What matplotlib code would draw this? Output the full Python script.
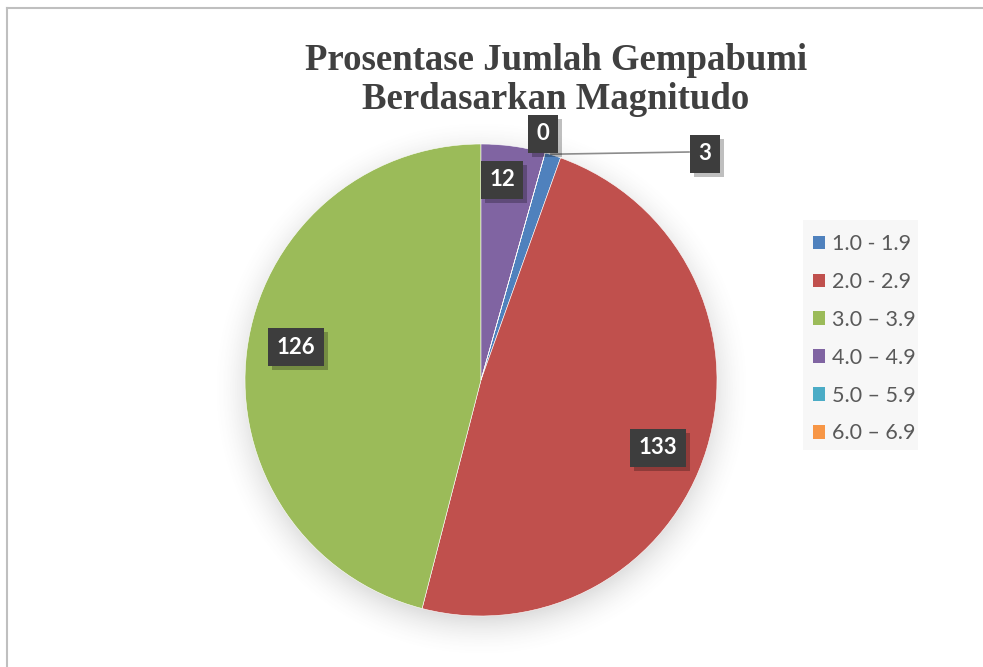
import numpy as np
import matplotlib
matplotlib.use("Agg")
import matplotlib.pyplot as plt
from matplotlib.patches import Patch, Rectangle
import matplotlib.patheffects as pe

categories = ["1.0 - 1.9", "2.0 - 2.9", "3.0 \u2013 3.9", "4.0 \u2013 4.9", "5.0 \u2013 5.9", "6.0 \u2013 6.9"]
values = [3, 133, 126, 12, 0, 0]
label_shown = [True, True, True, True, True, False]
colors = ["#4F81BD", "#C0504D", "#9BBB59", "#8064A2", "#4BACC6", "#F79646"]
title = "Prosentase Jumlah Gempabumi\nBerdasarkan Magnitudo"

W, H = 983, 667
fig = plt.figure(figsize=(W / 100, H / 100), dpi=100)
fig.patch.set_facecolor("white")
ax = fig.add_axes([0, 0, 1, 1])

cx, cy, R = 481, H - 380, 236

# soft shadow under the pie
yy, xx = np.mgrid[0:H, 0:W]
d = np.hypot(xx - cx, (H - yy) - (cy - 8))
a = np.clip(1 - (d - R + 10) / 45.0, 0, 1) ** 2 * 0.22
img = np.zeros((H, W, 4))
img[..., :3] = 0.35
img[..., 3] = a
ax.imshow(img, extent=(0, W, 0, H), origin="upper", zorder=0.5, interpolation="bilinear")

total = sum(values)
start = 90 - 360 * values[3] / total  # first slice angle rotated
wedges, _ = ax.pie(values, colors=colors, startangle=start, counterclock=False,
                   center=(cx, cy), radius=R, frame=True,
                   wedgeprops=dict(edgecolor="white", linewidth=0.4))
ax.set_xlim(0, W)
ax.set_ylim(0, H)
ax.set_aspect("equal")
ax.axis("off")
for w in wedges:
    w.set_zorder(1)

# outer frame lines (top and left)
ax.plot([7, W], [H - 8, H - 8], color="#bfbfbf", lw=1.5)
ax.plot([7, 7], [H - 8, 0], color="#bfbfbf", lw=1.5)

fracs = np.array(values) / total
cum = np.concatenate([[0], np.cumsum(fracs)])
mid = np.radians(start) - 2 * np.pi * (cum[:-1] + cum[1:]) / 2

# label centres (pixels from top-left)
label_px = {0: (705, 154), 1: (658, 448), 2: (296, 347), 3: (502, 180), 4: (543, 134)}

# leader line for slice 0
ang0 = mid[0]
ax.plot([cx + R * np.cos(ang0) - 2, 689], [cy + R * np.sin(ang0) + 1, H - 152],
        color="#8c8c8c", lw=1.2, zorder=3)

for i, (v, show) in enumerate(zip(values, label_shown)):
    if not show:
        continue
    x, y = label_px[i]
    t = ax.text(x, H - y, str(v), ha="center", va="center", fontsize=16,
                fontweight="bold", family="Lato", color="white", zorder=5,
                bbox=dict(boxstyle="square,pad=0.38", facecolor="#3d3d3d", edgecolor="none"))
    t.get_bbox_patch().set_path_effects([
        pe.SimplePatchShadow(offset=(3, -3), shadow_rgbFace="black", alpha=0.25),
        pe.Normal()])

ax.text(556, H - 80, title, ha="center", va="center", fontsize=26.5, fontweight="bold",
        family="Liberation Serif", color="#404040", linespacing=1.12, zorder=2)

# legend background
ax.add_patch(Rectangle((803, H - 450), 115, 230, facecolor="#f7f7f7", edgecolor="none", zorder=1))
handles = [Patch(facecolor=c, edgecolor="none") for c in colors]
leg = ax.legend(handles, categories, loc="upper left", bbox_to_anchor=(798 / W, 1 - 219 / H),
                frameon=False, prop=dict(family="Lato", size=15.5), labelcolor="#595959",
                handlelength=0.55, handleheight=0.6, handletextpad=0.35, labelspacing=0.83,
                borderpad=0.2)

fig.savefig("out.png", dpi=100, facecolor="white")
